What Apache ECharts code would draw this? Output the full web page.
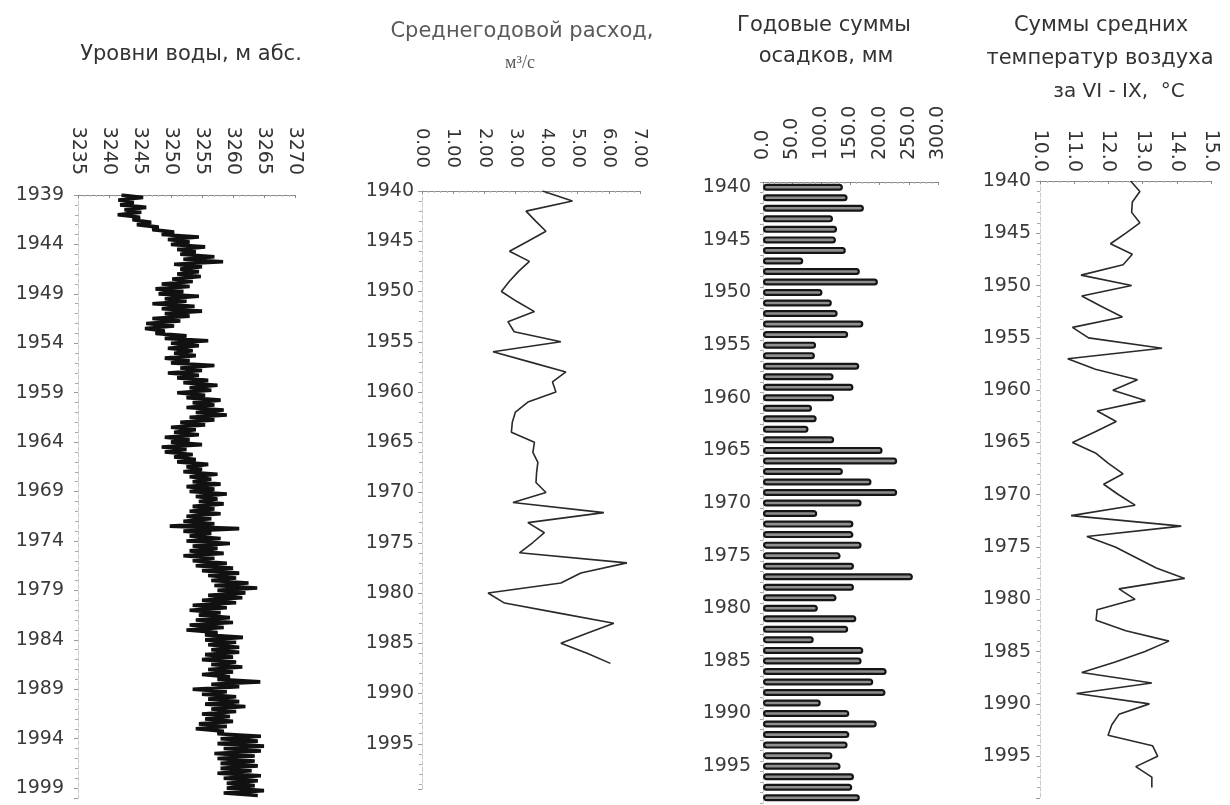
<!DOCTYPE html>
<html>
<head>
<meta charset="utf-8">
<script src="https://cdn.jsdelivr.net/npm/echarts@6/dist/echarts.min.js"></script>
<style>
html,body{margin:0;padding:0;background:#fff;}
#chart{width:1230px;height:805px;}
</style>
</head>
<body>
<div id="chart"></div>
<script>
// ---------- DATA ----------
// Panel 1: water levels, m abs. (4 readings per year, from 1939)
const levelStartYear = 1939;
const levelPerYear = 4;
const levelValues = [
  3242.0,3245.5,3241.5,3244.0, 3241.8,3246.0,3242.5,3245.2, 3241.4,3245.0,3243.8,3246.8,
  3244.5,3248.0,3247.0,3250.5, 3248.5,3254.5,3249.5,3253.0, 3250.0,3255.5,3251.0,3254.0,
  3251.5,3257.0,3252.0,3258.4, 3250.5,3255.0,3251.5,3254.5, 3251.0,3254.8,3250.2,3253.5,
  3248.5,3253.0,3247.5,3252.0, 3248.0,3254.5,3249.0,3252.5, 3247.0,3253.8,3248.5,3255.0,
  3249.0,3253.0,3247.0,3251.5, 3246.0,3250.5,3245.8,3249.0, 3247.5,3252.5,3249.0,3256.0,
  3250.0,3254.5,3249.5,3253.5, 3250.5,3254.0,3249.0,3253.0, 3250.0,3257.0,3251.5,3255.0,
  3249.5,3254.5,3251.0,3256.0, 3252.0,3257.5,3253.0,3256.5, 3251.0,3255.5,3252.5,3258.0,
  3253.5,3257.0,3252.5,3258.5, 3254.0,3259.0,3253.0,3257.0, 3251.5,3255.5,3250.0,3254.0,
  3250.5,3254.5,3249.0,3253.0, 3250.0,3255.0,3248.5,3252.5, 3249.0,3253.5,3250.5,3254.0,
  3251.0,3256.0,3252.5,3255.0, 3252.0,3257.5,3253.0,3256.5, 3253.5,3258.0,3252.5,3257.0,
  3253.0,3259.0,3254.0,3257.5, 3254.5,3258.5,3253.5,3257.0, 3253.0,3258.0,3252.5,3256.5,
  3252.0,3257.0,3249.8,3261.0, 3252.0,3256.5,3253.0,3258.0, 3252.5,3259.5,3253.5,3257.5,
  3253.0,3258.5,3252.0,3257.0, 3253.5,3259.0,3254.0,3260.0, 3255.0,3261.0,3256.0,3260.5,
  3256.5,3262.5,3257.0,3263.9, 3257.5,3262.0,3256.0,3261.5, 3255.0,3260.5,3253.5,3259.0,
  3253.0,3258.0,3254.5,3259.5, 3254.0,3260.0,3253.0,3258.5, 3252.5,3257.5,3255.5,3261.6,
  3255.5,3260.5,3256.0,3261.0, 3256.5,3261.0,3255.5,3260.0, 3255.0,3260.5,3256.5,3261.5,
  3256.0,3260.0,3255.0,3259.5, 3257.5,3264.4,3256.5,3261.0, 3253.5,3259.0,3255.0,3260.5,
  3256.0,3261.0,3255.5,3262.0, 3256.5,3260.5,3255.0,3259.5, 3255.5,3260.0,3254.5,3259.0,
  3254.0,3258.5,3257.5,3264.5, 3258.0,3264.0,3257.5,3265.0, 3258.5,3264.5,3257.0,3263.5,
  3257.5,3263.5,3258.0,3264.0, 3258.0,3263.0,3257.5,3264.5, 3258.5,3264.0,3259.0,3263.5,
  3259.0,3265.0,3258.5,3264.0
];
const levelTicks = [3235,3240,3245,3250,3255,3260,3265,3270];
const levelYearTicks = [1939,1944,1949,1954,1959,1964,1969,1974,1979,1984,1989,1994,1999];

// Panel 2: mean annual discharge, m3/s (from 1940)
const flowStartYear = 1940;
const flowValues = [
  3.87,4.83,3.34,3.65,3.98,3.40,2.81,3.45,3.10,2.80,
  2.55,3.05,3.61,2.76,2.96,4.46,2.28,3.45,4.62,4.19,
  4.30,3.40,3.00,2.90,2.87,3.61,3.56,3.72,3.68,3.66,
  3.98,2.92,5.84,3.40,3.93,3.55,3.13,6.58,5.10,4.46,
  2.12,2.65,4.40,6.16,5.30,4.46,5.30,6.05
];
const flowTicks = [0,1,2,3,4,5,6,7];
const flowYearTicks = [1940,1945,1950,1955,1960,1965,1970,1975,1980,1985,1990,1995];

// Panel 3: annual precipitation sums, mm
const precipYears = [
  '1940','1941','1942','1943','1944','1945','1946','1947','1948','1949',
  '1950','1951','1952','1953','1954','1955','1956','1957','1958','1959',
  '1960','1961','1962','1963','1964','1965','1966','1967','1968','1969',
  '1970','1971','1972','1973','1974','1975','1976','1977','1978','1979',
  '1980','1981','1982','1983','1984','1985','1986','1987','1988','1989',
  '1990','1991','1992','1993','1994','1995','1996','1997','1998'
];
const precipValues = [
  137,145,173,120,127,125,142,69,166,197,
  102,118,128,172,146,91,89,165,121,155,
  122,84,92,78,122,205,230,137,186,230,
  169,93,155,155,169,133,156,257,156,126,
  94,160,146,87,172,169,212,189,210,99,
  148,195,148,145,119,133,156,153,166
];
const precipTicks = [0,50,100,150,200,250,300];

// Panel 4: sums of mean air temperatures for VI-IX, °C (from 1940)
const tempStartYear = 1940;
const tempValues = [
  12.65,12.92,12.70,12.68,12.92,12.50,12.06,12.70,12.43,11.20,
  12.68,11.22,11.80,12.41,10.95,11.42,13.57,10.81,11.62,12.85,
  12.13,13.08,11.67,12.23,11.60,10.95,11.62,12.00,12.43,11.86,
  12.30,12.78,10.91,14.13,11.37,12.20,12.80,13.40,14.23,12.31,
  12.78,11.67,11.64,12.51,13.77,13.07,12.20,11.22,13.27,11.07,
  13.20,12.31,12.10,11.99,13.29,13.44,12.80,13.27,13.27
];
const tempTicks = [10,11,12,13,14,15];
const tempYearTicks = [1940,1945,1950,1955,1960,1965,1970,1975,1980,1985,1990,1995];

// ---------- CHART ----------
const chart = echarts.init(document.getElementById('chart'), null, {renderer:'canvas'});
const FONT = 'DejaVu Sans';
const TXT = '#333';

function topAxis(gi, ticks, digits, margin, fs) {
  return {
    type:'value', gridIndex:gi, position:'top',
    min:ticks[0], max:ticks[ticks.length-1], interval:ticks[1]-ticks[0],
    axisLine:{show:true, lineStyle:{color:'#8a8a8a', width:1}},
    axisTick:{show:true, inside:true, length:3, lineStyle:{color:'#888'}},
    minorTick:{show:true, splitNumber:5, length:2, lineStyle:{color:'#bbb'}},
    splitLine:{show:false},
    axisLabel:{rotate:-90, margin:margin, color:TXT, fontFamily:FONT, fontSize:fs,
      formatter:v => digits == null ? String(v) : Number(v).toFixed(digits)}
  };
}
function yearAxis(gi, yearTicks, maxOffset, margin) {
  const base = yearTicks[0];
  return {
    type:'value', gridIndex:gi, inverse:true,
    min:0, max:maxOffset, interval:yearTicks[1]-yearTicks[0],
    axisLine:{show:true, lineStyle:{color:'#c8c8c8', width:1, type:'dashed'}},
    axisTick:{show:true, length:4, lineStyle:{color:'#999'}},
    minorTick:{show:true, splitNumber:5, length:3, lineStyle:{color:'#aaa'}},
    splitLine:{show:false},
    axisLabel:{show:true, margin:margin, color:'#3a3a3a', fontFamily:FONT, fontSize:19,
      showMaxLabel:false,
      formatter:v => String(base + v)}
  };
}

const levelData = levelValues.map((v,i) => [v, (levelStartYear + i/levelPerYear) - levelYearTicks[0]]);
const flowData = flowValues.map((v,i) => [v, (flowStartYear + i) - flowYearTicks[0]]);
const tempData = tempValues.map((v,i) => [v, (tempStartYear + i) - tempYearTicks[0]]);

const titleFont = '21px "DejaVu Sans"';
const option = {
  backgroundColor:'#ffffff',
  animation:false,
  grid:[
    {left:78, top:195, width:217, height:603},
    {left:422, top:191, width:218, height:598},
    {left:763, top:182, width:175, height:621},
    {left:1040, top:181, width:171, height:617}
  ],
  xAxis:[
    topAxis(0, levelTicks, null, 20, 19),
    topAxis(1, flowTicks, 2, 23, 18),
    topAxis(2, precipTicks, 1, 22, 19),
    topAxis(3, tempTicks, 1, 9, 19)
  ],
  yAxis:[
    yearAxis(0, levelYearTicks, 61, 14),
    yearAxis(1, flowYearTicks, 59.5, 8),
    {
      type:'category', gridIndex:2, inverse:true, data:precipYears,
      axisLine:{show:true, lineStyle:{color:'#c8c8c8', width:1, type:'dashed'}},
      axisTick:{show:true, interval:0, length:3, lineStyle:{color:'#aaa'}},
      splitLine:{show:false},
      axisLabel:{interval:4, margin:12, color:'#3a3a3a', fontFamily:FONT, fontSize:19}
    },
    yearAxis(3, tempYearTicks, 59, 9)
  ],
  series:[
    {type:'line', xAxisIndex:0, yAxisIndex:0, data:levelData, showSymbol:false,
      lineStyle:{color:'#111', width:3.6}, z:3},
    {type:'line', xAxisIndex:1, yAxisIndex:1, data:flowData, showSymbol:false,
      lineStyle:{color:'#2a2a2a', width:1.6}},
    {type:'bar', xAxisIndex:2, yAxisIndex:2, data:precipValues, barWidth:7,
      itemStyle:{color:'#8e8e8e', borderColor:'#151515', borderWidth:2.2, borderRadius:3}},
    {type:'line', xAxisIndex:3, yAxisIndex:3, data:tempData, showSymbol:false,
      lineStyle:{color:'#2a2a2a', width:1.6}}
  ],
  graphic:[
    {type:'text', x:191, y:55, style:{text:'Уровни воды, м абс.', fill:'#333', font:titleFont, textAlign:'center', textVerticalAlign:'middle'}},
    {type:'text', x:522, y:32, style:{text:'Среднегодовой расход,', fill:'#5a5a5a', font:titleFont, textAlign:'center', textVerticalAlign:'middle'}},
    {type:'text', x:520, y:63, style:{text:'м³/с', fill:'#5a5a5a', font:'18px "Liberation Serif"', textAlign:'center', textVerticalAlign:'middle'}},
    {type:'text', x:824, y:26, style:{text:'Годовые суммы', fill:'#333', font:titleFont, textAlign:'center', textVerticalAlign:'middle'}},
    {type:'text', x:826, y:57, style:{text:'осадков, мм', fill:'#333', font:titleFont, textAlign:'center', textVerticalAlign:'middle'}},
    {type:'text', x:1101, y:26, style:{text:'Суммы средних', fill:'#333', font:titleFont, textAlign:'center', textVerticalAlign:'middle'}},
    {type:'text', x:1100, y:59, style:{text:'температур воздуха', fill:'#333', font:titleFont, textAlign:'center', textVerticalAlign:'middle'}},
    {type:'text', x:1119, y:92, style:{text:'за VI - IX,  °С', fill:'#333', font:'20px "DejaVu Sans"', textAlign:'center', textVerticalAlign:'middle'}}
  ]
};
chart.setOption(option);
</script>
</body>
</html>
